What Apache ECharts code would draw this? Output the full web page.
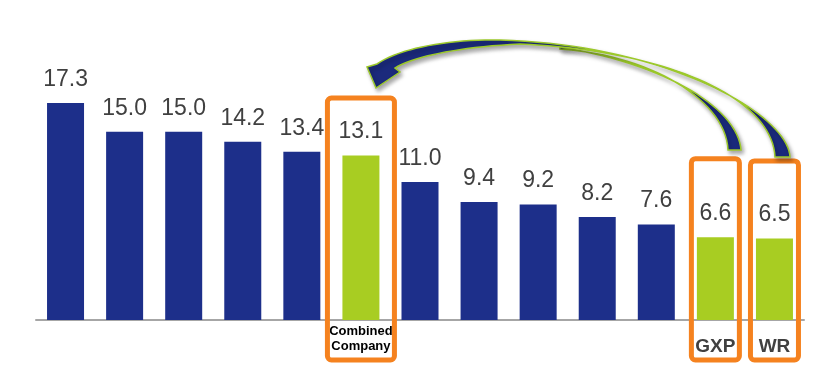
<!DOCTYPE html>
<html>
<head>
<meta charset="utf-8">
<script src="https://cdn.jsdelivr.net/npm/echarts@6/dist/echarts.min.js"></script>
<style>
  html, body { margin: 0; padding: 0; background: #fff; }
  #chart { width: 838px; height: 376px; }
</style>
</head>
<body>
<div id="chart"></div>
<script>
var categories = ['', '', '', '', '', 'Combined\nCompany', '', '', '', '', '', 'GXP', 'WR'];
var values = [17.3, 15.0, 15.0, 14.2, 13.4, 13.1, 11.0, 9.4, 9.2, 8.2, 7.6, 6.6, 6.5];
var highlighted = ['Combined\nCompany', 'GXP', 'WR'];

var BLUE = '#1d2f8a';
var GREEN = '#a8cd22';
var ORANGE = '#f5821f';

var chart = echarts.init(document.getElementById('chart'));

var option = {
    animation: false,
    grid: { left: 36, right: 34, top: 69, bottom: 56 },
    xAxis: {
        type: 'category',
        data: categories,
        axisTick: { show: false },
        axisLine: { lineStyle: { color: '#a6a6a6', width: 2 } },
        axisLabel: {
            interval: 0,
            margin: 4,
            formatter: function (v) {
                if (v === 'Combined\nCompany') return '{cc|Combined}\n{cc|Company}';
                if (v) return '{tk|' + v + '}';
                return '';
            },
            rich: {
                cc: { fontFamily: 'Liberation Sans', fontSize: 13, fontWeight: 'bold', color: '#000', lineHeight: 15 },
                tk: { fontFamily: 'Liberation Sans', fontSize: 19, fontWeight: 'bold', color: '#404040', lineHeight: 46 }
            }
        }
    },
    yAxis: {
        type: 'value', min: 0, max: 20,
        show: false,
        splitLine: { show: false }
    },
    series: [{
        type: 'bar',
        data: values,
        barWidth: 37,
        itemStyle: {
            color: function (p) {
                return highlighted.indexOf(categories[p.dataIndex]) >= 0 ? GREEN : BLUE;
            }
        },
        label: {
            show: true,
            position: 'top',
            distance: 12,
            fontFamily: 'Liberation Sans',
            fontSize: 23,
            color: '#404040',
            formatter: function (p) { return p.value.toFixed(1); }
        }
    }]
};
chart.setOption(option);

// orange boxes around the highlighted bars
function px(i) { return chart.convertToPixel({ seriesIndex: 0 }, [i, values[i]]); }
var axisY = chart.convertToPixel({ seriesIndex: 0 }, [0, 0])[1];

var boxes = [
    { idx: 5, w: 67, above: 57.5 },
    { idx: 11, w: 48, above: 78.5 },
    { idx: 12, w: 48, above: 77.5 }
];
var graphics = boxes.map(function (b) {
    var p = px(b.idx);
    var top = p[1] - b.above;
    return {
        type: 'rect', z: 5,
        shape: { x: p[0] - b.w / 2, y: top, width: b.w, height: axisY + 40 - top, r: 4 },
        style: { fill: 'none', stroke: ORANGE, lineWidth: 5 }
    };
});

// curved arrows
function cubic(p0, p1, p2, p3, n) {
    var pts = [];
    for (var i = 0; i <= n; i++) {
        var t = i / n, u = 1 - t;
        pts.push([
            u * u * u * p0[0] + 3 * u * u * t * p1[0] + 3 * u * t * t * p2[0] + t * t * t * p3[0],
            u * u * u * p0[1] + 3 * u * u * t * p1[1] + 3 * u * t * t * p2[1] + t * t * t * p3[1]
        ]);
    }
    return pts;
}

var arrowStyle = {
    fill: '#1b2a7c',
    stroke: '#9cc92a',
    lineWidth: 1.5,
    shadowBlur: 4,
    shadowOffsetX: 2,
    shadowOffsetY: 3,
    shadowColor: 'rgba(0,0,0,0.35)'
};

var gxpArrow = [].concat(
    cubic([741, 150], [738, 110], [670, 65], [560, 47], 30),
    cubic([560, 49], [650, 55], [726, 100], [728, 150], 30)
);
var wrArrow = [].concat(
    cubic([790, 157], [788, 115], [670, 45], [500, 40], 40),
    cubic([500, 40], [450, 39], [400, 48], [377, 64], 20),
    [[367, 67], [376, 88], [400, 72], [395, 68]],
    cubic([395, 68], [410, 58], [455, 47], [520, 44], 20),
    cubic([520, 44], [660, 50], [772, 95], [775, 157], 40)
);
graphics.push({ type: 'polygon', z: 10, shape: { points: gxpArrow }, style: arrowStyle });
graphics.push({ type: 'polygon', z: 11, shape: { points: wrArrow }, style: arrowStyle });

chart.setOption({ graphic: graphics });
</script>
</body>
</html>
